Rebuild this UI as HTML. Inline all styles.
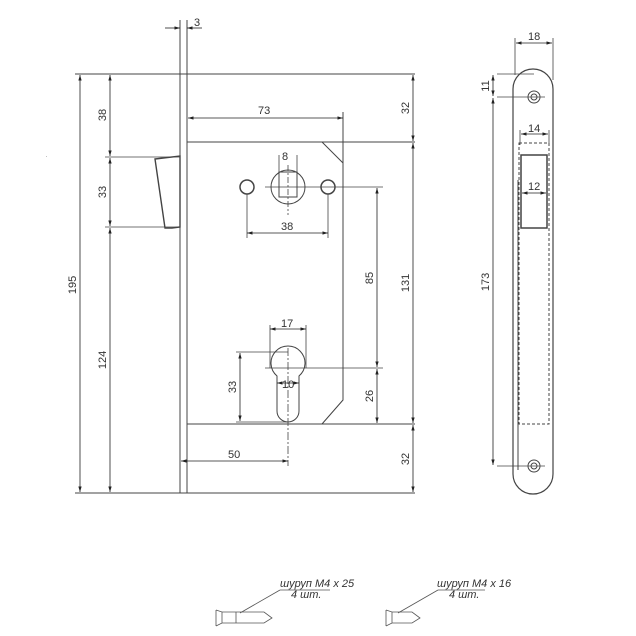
<!DOCTYPE html>
<html><head><meta charset="utf-8"><style>body{margin:0;background:#fff}svg{display:block}text{font-family:"Liberation Sans",sans-serif;font-size:11px;fill:#333}</style></head><body>
<svg width="636" height="636" viewBox="0 0 636 636" xmlns="http://www.w3.org/2000/svg">
<defs><marker id="a" viewBox="0 0 10 10" refX="10" refY="5" markerWidth="7" markerHeight="7" orient="auto-start-reverse"><path d="M0,2L10,5L0,8z" fill="#222"/></marker></defs>
<g stroke="#444" stroke-width="1" fill="none">
<line x1="180" y1="20" x2="180" y2="493"/><line x1="187" y1="20" x2="187" y2="493"/>
<line x1="75" y1="74" x2="415" y2="74"/><line x1="75" y1="493" x2="415" y2="493"/>
<line x1="187" y1="142" x2="415" y2="142"/><line x1="187" y1="424" x2="415" y2="424"/>
<polyline points="343,112 343,400 322,424"/><line x1="322" y1="142" x2="343" y2="163"/>
<circle cx="288" cy="187" r="17"/><rect x="279" y="172" width="18" height="25"/>
<circle cx="247" cy="187" r="7" stroke-width="1.5"/><circle cx="328" cy="187" r="7" stroke-width="1.5"/>
<path d="M277,376 A17,17 0 1 1 299,376 V411 A11,11 0 0 1 277,411 Z"/>
<polygon points="155,159 180,156 180,227 172,228 165,228" stroke-width="1.4"/>
<path d="M513,89 A19,19 0 0 1 553,89 V474 A19,19 0 0 1 513,474 Z" stroke-width="1.2"/>
<line x1="518" y1="180" x2="518" y2="470"/>
<circle cx="534" cy="97" r="6"/><circle cx="534" cy="97" r="3"/>
<circle cx="534" cy="466" r="6"/><circle cx="534" cy="466" r="3"/>
<rect x="519" y="143" width="30" height="281" stroke-dasharray="3,2"/>
<rect x="521" y="155" width="26" height="73" stroke-width="1.5"/>
</g>
<g stroke="#444" stroke-width="0.8" fill="none">
<line x1="105" y1="157" x2="180" y2="157"/><line x1="105" y1="227" x2="180" y2="227"/>
<line x1="288" y1="165" x2="288" y2="215" stroke-dasharray="6,2,2,2"/><line x1="265" y1="187" x2="335" y2="187"/>
<line x1="279" y1="155" x2="279" y2="172"/><line x1="297" y1="155" x2="297" y2="172"/>
<line x1="247" y1="194" x2="247" y2="238"/><line x1="328" y1="194" x2="328" y2="238"/>
<line x1="335" y1="187" x2="383" y2="187"/><line x1="265" y1="368" x2="383" y2="368"/>
<line x1="288" y1="348" x2="288" y2="466" stroke-dasharray="8,2,2,2"/>
<line x1="270" y1="325" x2="270" y2="368"/><line x1="306" y1="325" x2="306" y2="368"/>
<line x1="236" y1="352" x2="288" y2="352"/><line x1="236" y1="422" x2="288" y2="422"/>
<line x1="497" y1="74" x2="534" y2="74"/><line x1="497" y1="97" x2="545" y2="97"/><line x1="497" y1="466" x2="545" y2="466"/>
<line x1="515" y1="38" x2="515" y2="75"/><line x1="553" y1="38" x2="553" y2="80"/>
<line x1="520" y1="130" x2="520" y2="145"/><line x1="549" y1="130" x2="549" y2="145"/>
</g>
<g stroke="#222" stroke-width="0.8" marker-start="url(#a)" marker-end="url(#a)">
<line x1="80" y1="75" x2="80" y2="492"/>
<line x1="110" y1="75" x2="110" y2="156"/><line x1="110" y1="158" x2="110" y2="226"/><line x1="110" y1="228" x2="110" y2="492"/>
<line x1="413" y1="75" x2="413" y2="141"/><line x1="413" y1="143" x2="413" y2="423"/><line x1="413" y1="425" x2="413" y2="492"/>
<line x1="188" y1="118" x2="343" y2="118"/>
<line x1="247" y1="233" x2="328" y2="233"/>
<line x1="377" y1="188" x2="377" y2="367"/><line x1="377" y1="369" x2="377" y2="423"/>
<line x1="270" y1="329" x2="306" y2="329"/>
<line x1="277" y1="383" x2="299" y2="383"/>
<line x1="240" y1="353" x2="240" y2="421"/>
<line x1="181" y1="461" x2="288" y2="461"/>
<line x1="516" y1="43" x2="552" y2="43"/>
<line x1="493" y1="75" x2="493" y2="96"/><line x1="493" y1="98" x2="493" y2="465"/>
<line x1="521" y1="134" x2="548" y2="134"/><line x1="522" y1="193" x2="546" y2="193"/>
</g>
<g stroke="#222" stroke-width="0.8"><line x1="165" y1="28" x2="180" y2="28" marker-end="url(#a)"/><line x1="202" y1="28" x2="187" y2="28" marker-end="url(#a)"/></g>
<text x="194" y="26">3</text>
<text x="258" y="114">73</text><text x="282" y="160">8</text><text x="281" y="230">38</text>
<text x="281" y="327">17</text><text x="282" y="388">10</text><text x="228" y="458">50</text>
<text x="528" y="40">18</text><text x="528" y="132">14</text><text x="528" y="190">12</text>
<g text-anchor="middle">
<text transform="translate(76,285) rotate(-90)">195</text>
<text transform="translate(106,115) rotate(-90)">38</text>
<text transform="translate(106,192) rotate(-90)">33</text>
<text transform="translate(106,360) rotate(-90)">124</text>
<text transform="translate(409,108) rotate(-90)">32</text>
<text transform="translate(409,283) rotate(-90)">131</text>
<text transform="translate(409,459) rotate(-90)">32</text>
<text transform="translate(373,278) rotate(-90)">85</text>
<text transform="translate(373,396) rotate(-90)">26</text>
<text transform="translate(236,387) rotate(-90)">33</text>
<text transform="translate(489,86) rotate(-90)">11</text>
<text transform="translate(489,282) rotate(-90)">173</text>
</g>
<text x="46" y="157" style="font-size:5px">.</text>
<g stroke="#555" stroke-width="0.8" fill="none">
<line x1="240" y1="613" x2="280" y2="590"/><line x1="280" y1="590" x2="330" y2="590"/>
<path d="M216,610 V626 M216,610 L222,612 H264 L272,618 L264,623 H222 L216,626 M222,612 V623 M236,612 V623"/>
<line x1="398" y1="613" x2="438" y2="590"/><line x1="438" y1="590" x2="485" y2="590"/>
<path d="M386,610 V626 M386,610 L392,612 H412 L420,618 L412,623 H392 L386,626 M392,612 V623"/>
</g>
<g style="font-size:6px;font-style:italic">
<text x="280" y="587">шуруп М4 х 25</text><text x="291" y="598">4 шт.</text>
<text x="437" y="587">шуруп М4 х 16</text><text x="449" y="598">4 шт.</text>
</g>
</svg></body></html>
